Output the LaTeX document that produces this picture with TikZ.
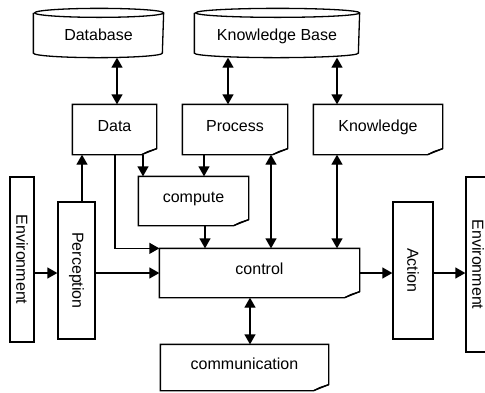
\documentclass[tikz,border=0pt]{standalone}
\usepackage{fontspec}
\setmainfont{Liberation Sans}
\usetikzlibrary{arrows.meta}
\newcommand\drawnote[1]{%
  \draw (#1.north west) -- (#1.north east) -- ([yshift=6pt]#1.south east)
        -- ([xshift=-15pt]#1.south east) -- (#1.south west) -- cycle;
  \draw ([yshift=6pt]#1.south east) -- ([xshift=-9pt,yshift=3pt]#1.south east)
        -- ([xshift=-15pt]#1.south east);}
\newcommand\drawcyl[2]{%
  \draw ([yshift=-4.5pt]#1.north west) -- ([yshift=4.5pt]#1.south west)
        arc[start angle=180,end angle=360,x radius=#2,y radius=4.5pt]
        -- ([yshift=-4.5pt]#1.north east)
        arc[start angle=0,end angle=360,x radius=#2,y radius=4.5pt];}
\begin{document}
\begin{tikzpicture}[x=1pt,y=-1pt,line width=1.3pt,
  every node/.style={font=\fontsize{16}{19}\selectfont,inner sep=0pt},
  lbl/.style={text height=0.75em,text depth=0.45em},
  box/.style={draw,rectangle},
  arr/.style={-{Triangle[length=10pt,width=11pt]}},
  dbl/.style={{Triangle[length=10pt,width=11pt]}-{Triangle[length=10pt,width=11pt]}}]
\useasboundingbox (0,0) rectangle (485,392);

% cylinders
\node[minimum width=129pt,minimum height=48pt] (db) at (98.5,33) {};
\node[minimum width=164pt,minimum height=48pt] (kb) at (277,33) {};
\drawcyl{db}{64.5pt}
\drawcyl{kb}{82pt}
\node[text height=0.72em,text depth=0pt] (dbt) at (98.5,36.5) {Database};
\node[text height=0.72em,text depth=0pt] (kbt) at (277,36.5) {Knowledge Base};

% note boxes
\node[lbl,minimum width=83pt,minimum height=49pt] (data) at (114.5,129.5) {Data};
\node[lbl,minimum width=104pt,minimum height=49pt] (proc) at (235,129.5) {Process};
\node[lbl,minimum width=128pt,minimum height=49pt] (know) at (378,129.5) {Knowledge};
\node[lbl,minimum width=109pt,minimum height=48pt] (comp) at (193.5,201) {compute};
\node[lbl,minimum width=199pt,minimum height=48pt] (ctrl) at (259.5,273) {control};
\node[lbl,minimum width=167pt,minimum height=45pt] (comm) at (244.5,367.5) {communication};
\drawnote{data}
\drawnote{proc}
\drawnote{know}
\drawnote{comp}
\drawnote{ctrl}
\drawnote{comm}

% vertical boxes
\node[box,minimum width=24pt,minimum height=165pt] (env1) at (22,259.5) {\rotatebox{-90}{Environment}};
\node[box,minimum width=37pt,minimum height=137pt] (perc) at (76.5,270.5) {\rotatebox{-90}{Perception}};
\node[box,minimum width=40pt,minimum height=137pt] (act) at (413,270.5) {\rotatebox{-90}{Action}};
\node[box,minimum width=24pt,minimum height=175pt] (env2) at (478,264.5) {\rotatebox{-90}{Environment}};

% helper coordinates
\coordinate (c82) at (82,0);
\coordinate (c115) at (115,0);
\coordinate (c117) at (117,0);
\coordinate (c143) at (143,0);
\coordinate (c204) at (204,0);
\coordinate (c205) at (205,0);
\coordinate (c228) at (228,0);
\coordinate (c250) at (250,0);
\coordinate (c271) at (271,0);
\coordinate (c337) at (337,0);
\coordinate (c273) at (0,273);

% connectors
\draw[dbl] (db.south -| c117) -- (data.north -| c117);
\draw[dbl] (kb.south -| c228) -- (proc.north -| c228);
\draw[dbl] (kb.south -| c337) -- (know.north -| c337);
\draw[arr] (data.south -| c143) -- (comp.north -| c143);
\draw[arr] (proc.south -| c204) -- (comp.north -| c204);
\draw[arr] (data.south -| c115) |- (ctrl.north west);
\draw[arr] (perc.north -| c82) -- (data.south -| c82);
\draw[arr] (env1.east |- c273) -- (perc.west |- c273);
\draw[arr] (perc.east |- c273) -- (ctrl.west |- c273);
\draw[arr] (comp.south -| c205) -- (ctrl.north -| c205);
\draw[dbl] (proc.south -| c271) -- (ctrl.north -| c271);
\draw[dbl] (know.south -| c337) -- (ctrl.north -| c337);
\draw[dbl] (ctrl.south -| c250) -- (comm.north -| c250);
\draw[arr] (ctrl.east |- c273) -- (act.west |- c273);
\draw[arr] (act.east |- c273) -- (env2.west |- c273);
\end{tikzpicture}
\end{document}
